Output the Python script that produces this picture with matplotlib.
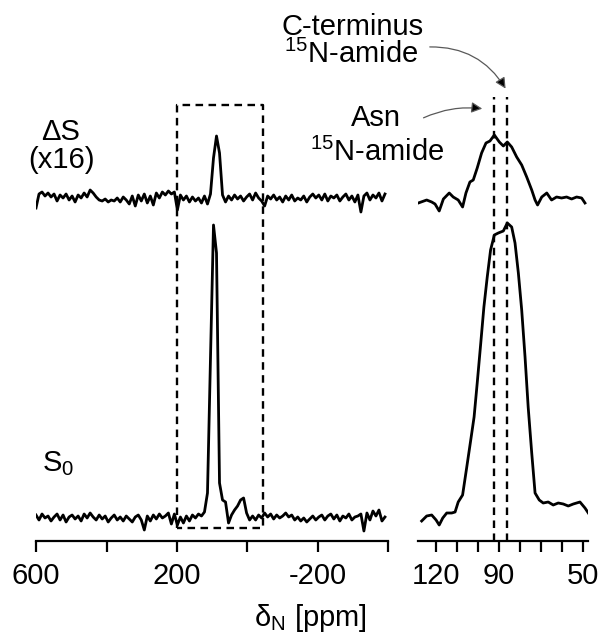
import numpy as np
import matplotlib
matplotlib.use('Agg')
import matplotlib.pyplot as plt

plt.rcParams['font.family'] = ['Liberation Sans', 'DejaVu Sans']
plt.rcParams['mathtext.fontset'] = 'custom'
plt.rcParams['mathtext.rm'] = 'Liberation Sans'
plt.rcParams['mathtext.it'] = 'Liberation Sans:italic'

# ---- data (intensities in arbitrary units) ----
# full spectra, chemical shift axis 600 .. -390 ppm
shift_full = np.linspace(600, -390, 117)
dS_full = [-10, 4, 6, 2, 5, 1, 4, -3, 3, 0, 4, -2, 2, -4, 3, 0, 5, 1, 8, 5,
           1, -2, -3, -1, -4, -2, -3, 0, -4, 1, -2, -6, 2, -8, 3, -3, 4, -5, 2, -7,
           5, 0, 6, 3, 7, 4, 6, -12, 3, -2, 2, -4, 1, -3, 0, -5, 2, -6, 4, 40,
           62, 45, 3, -4, 2, -2, 3, -1, 2, -3, 1, 4, -2, 5, 0, -3, -8, 2, -1, 3,
           -2, 1, -4, 2, -2, 3, -3, 0, -2, 2, -4, 1, 4, 0, 3, -2, 4, -3, 2, 0,
           3, -3, 1, 4, -2, 2, -4, 3, -14, 2, 5, -2, 3, 0, 5, -3, 4]
S0_full = [3, -2, 4, 0, 2, -3, 1, 4, -2, 3, -4, 1, 3, -1, 2, -3, 4, 0, 5, 1,
           -2, 3, -1, 2, -4, 0, 3, -2, 1, -3, 2, -1, -4, 1, 3, -2, -12, 2, -3, 3,
           -1, 4, 0, 2, 5, -6, 4, -7, 1, -5, 2, -3, 3, 0, 4, 2, 6, 25, 160, 293,
           265, 35, 18, 16, -5, 3, 8, 12, 18, 20, 5, -2, 2, -2, 3, 0, 5, 1, 4, -1,
           3, 0, 2, 5, 1, 3, -2, 1, -3, 0, -4, -1, 2, -2, 1, 3, -2, 2, 4, -1,
           3, -3, 2, 0, 4, -2, 1, 2, 4, -13, 5, -2, 7, 2, 8, -3, 1]

# zoomed amide region
shift_dS_zoom = [128.7, 124.7, 122.3, 120.7, 118.7, 116.7, 113.9, 112.0, 109.6, 107.5,
                 105.9, 104.0, 102.4, 100.5, 98.4, 96.3, 94.4, 92.3, 89.9, 88.0,
                 86.1, 84.0, 81.6, 79.2, 76.8, 74.4, 72.8, 71.6, 69.6, 67.2,
                 64.9, 62.5, 60.1, 57.7, 55.3, 52.9, 50.5, 48.9]
dS_zoom = [-3, 0, -2, -4, -11, 1, 7, 3, 0, -7,
           7, 18, 20, 32, 47, 57, 59, 65, 58, 54,
           58, 53, 43, 35, 23, 10, 0, -5, 3, 7,
           0, 3, 2, 3, 1, 3, 2, -3]
shift_S0_zoom = [127.1, 124.7, 122.3, 120.2, 118.7, 117.0, 115.1, 112.7, 111.1, 109.6,
                 107.5, 105.5, 103.6, 102.0, 100.5, 98.8, 97.3, 95.7, 94.1, 92.3,
                 90.4, 88.0, 86.1, 84.0, 82.4, 80.8, 79.2, 77.6, 76.1, 74.4,
                 72.8, 70.8, 68.9, 66.5, 64.1, 61.7, 59.3, 56.9, 54.5, 51.3,
                 48.9, 47.3]
S0_zoom = [-16, -11, -10, -15, -20, -13, -8, -8, -7, 3,
           10, 38, 65, 88, 122, 162, 198, 228, 255, 270,
           272, 274, 282, 278, 262, 232, 195, 148, 98, 52,
           12, 5, 2, 3, 0, 2, 1, -1, 1, 3,
           -3, -8]

amide_lines = [92.5, 86.3]      # Asn / C-terminus 15N-amide
box_range = [200, -45]          # region shown enlarged

# ---- layout (figure is 603 x 634 px) ----
W, H = 603, 634
fig = plt.figure(figsize=(W / 100, H / 100), dpi=100)

y_axis = 541
ax1 = fig.add_axes([36 / W, (H - y_axis) / H, 352.5 / W, y_axis / H])
ax2 = fig.add_axes([417.7 / W, (H - y_axis) / H, 170.2 / W, y_axis / H])

off_dS_l, off_S0_l = 343, 23
off_dS_r, off_S0_r = 341, 36

lw_trace = 2.0
ax1.plot(shift_full, np.array(dS_full) + off_dS_l, color='black', lw=lw_trace)
ax1.plot(shift_full, np.array(S0_full) + off_S0_l, color='black', lw=lw_trace)
ax2.plot(shift_dS_zoom, np.array(dS_zoom) + off_dS_r, color='black', lw=lw_trace)
ax2.plot(shift_S0_zoom, np.array(S0_zoom) + off_S0_r, color='black', lw=lw_trace)

dash = (0, (3.2, 2.3))
bx0, bx1 = box_range
by0, by1 = 13, 436
ax1.plot([bx0, bx0, bx1, bx1, bx0], [by0, by1, by1, by0, by0],
         color='black', lw=1.7, linestyle=dash)
for x in amide_lines:
    ax2.plot([x, x], [0, 444], color='black', lw=1.7, linestyle=dash)

ax1.set_xlim(600, -400)
ax2.set_xlim(129, 47.5)
ax1.set_xticks([600, 400, 200, 0, -200, -400])
ax1.set_xticklabels(['600', '', '200', '', '-200', ''])
ax2.set_xticks([120, 110, 100, 90, 80, 70, 60, 50])
ax2.set_xticklabels(['120', '', '', '90', '', '', '', '50'])

for ax in (ax1, ax2):
    ax.set_ylim(0, y_axis)
    ax.set_yticks([])
    for s in ('top', 'left', 'right'):
        ax.spines[s].set_visible(False)
    ax.spines['bottom'].set_linewidth(1.6)
    ax.tick_params(axis='x', length=8, width=1.6, labelsize=21, pad=7)
    ax.patch.set_alpha(0)

# ---- text ----
def put(x, y, s, **kw):
    fig.text(x / W, 1 - y / H, s, ha='center', va='center', fontsize=21, **kw)

put(61, 132, 'ΔS')
put(61, 160, '(x16)')
put(58, 464, r'S$_0$')
put(353, 27, 'C-terminus')
put(351, 54, r'$^{15}$N-amide')
put(376, 118, 'Asn')
put(377, 152, r'$^{15}$N-amide')
put(310, 618, r'δ$_\mathrm{N}$ [ppm]')

arrow = dict(arrowstyle='-|>', color='0.35', lw=0.9, mutation_scale=16, fc='black')
plt.annotate('', xy=(507, H - 91), xytext=(427, H - 47), xycoords='figure pixels',
             textcoords='figure pixels',
             arrowprops=dict(arrow, connectionstyle='arc3,rad=-0.3'))
plt.annotate('', xy=(485, H - 109), xytext=(421, H - 119), xycoords='figure pixels',
             textcoords='figure pixels',
             arrowprops=dict(arrow, connectionstyle='arc3,rad=-0.15'))

fig.savefig('out.png', dpi=100)
